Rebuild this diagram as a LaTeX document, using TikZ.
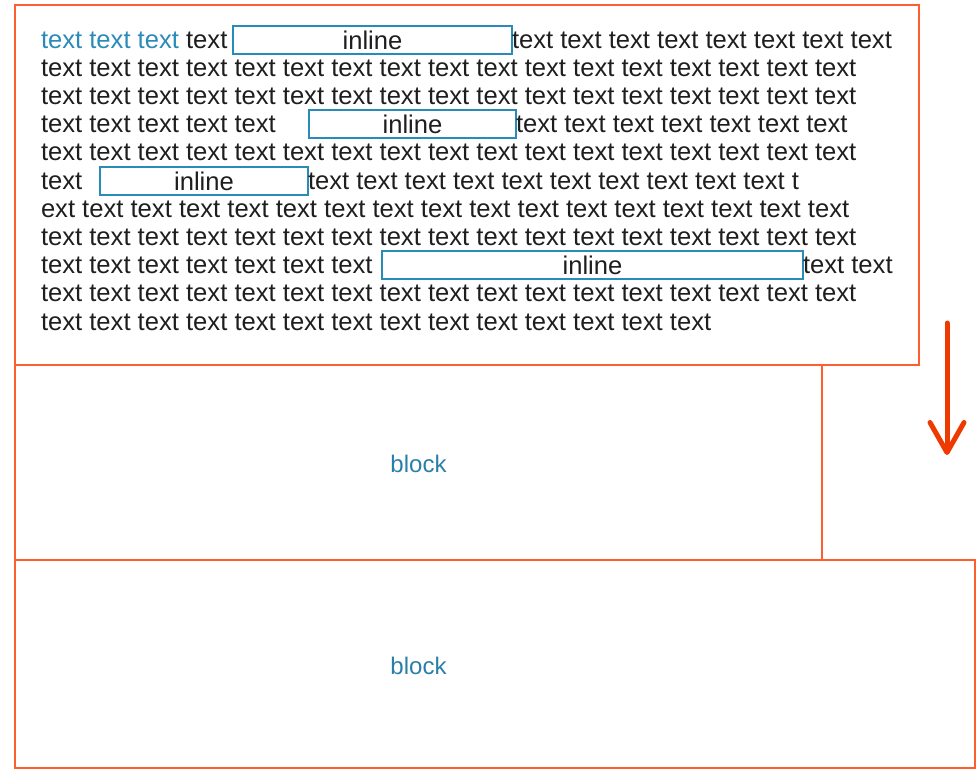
\documentclass[tikz,border=0pt]{standalone}
\usepackage{fontspec}
\setmainfont{Liberation Sans}
\usetikzlibrary{positioning,arrows.meta}
\definecolor{boxC}{HTML}{FF5F2E}
\definecolor{inlC}{HTML}{2A8AB8}
\definecolor{blkC}{HTML}{2A7FA8}
\definecolor{arrC}{HTML}{EE3A00}
\definecolor{darkC}{HTML}{1E1E1E}
\newcommand\fullrun{text text text text text text text text text text text text text text text text text}

\begin{document}
\begin{tikzpicture}[
  x=1pt, y=-1pt,
  every node/.style={text=darkC, inner sep=0pt, outer sep=0pt},
  areabox/.style={draw=boxC, line width=2.8pt, anchor=north west},
  inlinebox/.style={
    draw=inlC, line width=2.8pt, anchor=north west,
    minimum height=28pt, font=\fontsize{25.6}{28}\selectfont,
  },
  runtext/.style={anchor=base west, font=\fontsize{25.6}{28}\selectfont},
  blocklabel/.style={text=blkC, font=\fontsize{24}{28}\selectfont},
  flowarrow/.style={-{Straight Barb[round, length=30pt, width=34pt]}, arrC, line width=5pt, line cap=round},
]
\useasboundingbox (0,0) rectangle (976,771);

% ── Outer areas ──
\node[areabox, minimum width=904pt, minimum height=360pt] (para) at (15,5) {};
\node[areabox, minimum width=807pt, minimum height=195pt] (blockA) at (15,365) {};
\node[areabox, line width=2.6pt, minimum width=960pt, minimum height=208pt] (blockB) at (15,560) {};

% ── Inline boxes ──
\node[inlinebox, minimum width=279pt] (in1) at (233,26) {inline};
\node[inlinebox, minimum width=207pt] (in2) at (309,110) {inline};
\node[inlinebox, minimum width=208pt] (in3) at (100,167) {inline};
\node[inlinebox, minimum width=421pt] (in4) at (382,251) {inline};

% ── Text lines ──
\node[runtext, text=inlC] (l1a) at (41,48) {text text text};
\node[runtext] (l1b) at (l1a.base east) {\ text};
\node[runtext] (l1c) at (in1.east |- l1a.base) {text text text text text text text text};
\node[runtext] (l2) at (41,76.2) {\fullrun};
\node[runtext] (l3) at (41,104.4) {\fullrun};
\node[runtext] (l4a) at (41,132.6) {text text text text text};
\node[runtext] (l4b) at (in2.east |- l4a.base) {text text text text text text text};
\node[runtext] (l5) at (41,160.8) {\fullrun};
\node[runtext] (l6a) at (41,189) {text};
\node[runtext] (l6b) at (in3.east |- l6a.base) {text text text text text text text text text text t};
\node[runtext] (l7) at (41,217.2) {ext text text text text text text text text text text text text text text text text};
\node[runtext] (l8) at (41,245.4) {\fullrun};
\node[runtext] (l9a) at (41,273.6) {text text text text text text text};
\node[runtext] (l9b) at (in4.east |- l9a.base) {text text};
\node[runtext] (l10) at (41,301.8) {\fullrun};
\node[runtext] (l11) at (41,330) {text text text text text text text text text text text text text text};

% ── Block labels ──
\node[blocklabel] (blkA) at ([yshift=-1pt]blockA.center) {block};
\node[blocklabel] (blkB) at ([yshift=-2pt]blockA.center |- blockB.center) {block};

% ── Flow arrow ──
\coordinate (arrtop) at (947,323);
\coordinate (arrtip) at (947,455);
\draw[flowarrow] (arrtop) -- (arrtip);

\end{tikzpicture}
\end{document}
